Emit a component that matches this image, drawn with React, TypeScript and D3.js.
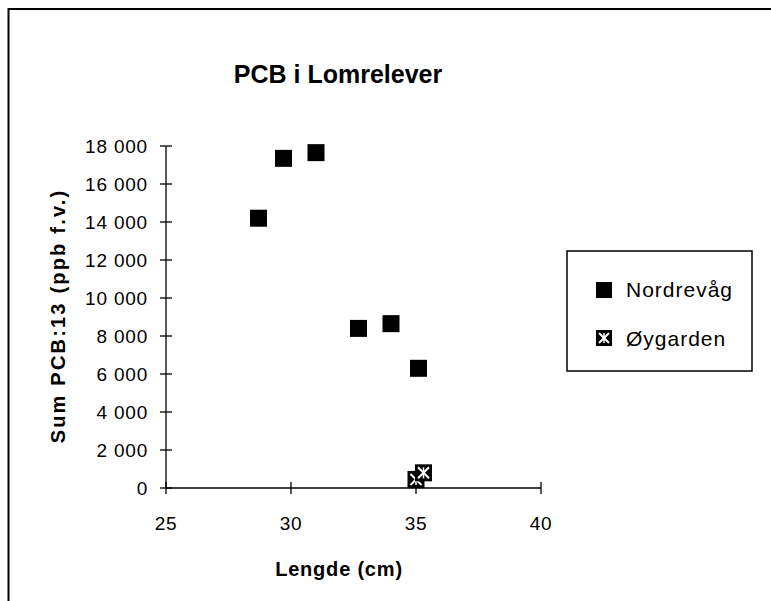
import * as d3 from 'd3';

const nordrevagLength = [28.7, 29.7, 31.0, 32.7, 34.0, 35.1];
const nordrevagPcb = [14200, 17350, 17650, 8400, 8650, 6300];
const oygardenLength = [35.0, 35.3];
const oygardenPcb = [450, 800];
const xTicks = [25, 30, 35, 40];
const yTicks = [0, 2000, 4000, 6000, 8000, 10000, 12000, 14000, 16000, 18000];
const seriesNames = ['Nordrevåg', 'Øygarden'];

const FONT = '"Liberation Sans", Arial, Helvetica, sans-serif';

const fmt = d3
  .formatLocale({ decimal: ',', thousands: ' ', grouping: [3], currency: ['', ''] })
  .format(',');

function OyMarker({ cx, cy, s }: { cx: number; cy: number; s: number }) {
  const h = s / 2;
  const k = h - 3;
  return (
    <g>
      <rect x={cx - h} y={cy - h} width={s} height={s} fill="#000" />
      <line x1={cx - k} y1={cy - k} x2={cx + k} y2={cy + k} stroke="#fff" strokeWidth={2} />
      <line x1={cx - k} y1={cy + k} x2={cx + k} y2={cy - k} stroke="#fff" strokeWidth={2} />
      <line x1={cx} y1={cy - k} x2={cx} y2={cy + k} stroke="#fff" strokeWidth={1.5} />
    </g>
  );
}

export default function App() {
  const width = 771;
  const height = 601;
  const x = d3.scaleLinear().domain([25, 40]).range([166, 541]);
  const y = d3.scaleLinear().domain([0, 18000]).range([488, 146]);
  const ms = 17;

  const nord = nordrevagLength.map((l, i) => ({ l, v: nordrevagPcb[i] }));
  const oy = oygardenLength.map((l, i) => ({ l, v: oygardenPcb[i] }));

  return (
    <svg
      width={width}
      height={height}
      style={{ position: 'absolute', left: 0, top: 0, background: '#fff' }}
      fontFamily={FONT}
    >
      <rect x={0} y={0} width={width} height={height} fill="#fff" />
      {/* outer frame */}
      <rect x={8.5} y={9} width={780} height={620} fill="none" stroke="#000" strokeWidth={2} />

      <text x={338} y={83} textAnchor="middle" fontSize={25} fontWeight="bold">
        PCB i Lomrelever
      </text>

      {/* y axis */}
      <line x1={x(25)} x2={x(25)} y1={y(18000)} y2={y(0)} stroke="#000" strokeWidth={1.3} />
      {yTicks.map((t) => (
        <g key={t}>
          <line x1={x(25) - 6} x2={x(25) + 6} y1={y(t)} y2={y(t)} stroke="#000" strokeWidth={1.3} />
          <text x={x(25) - 18} y={y(t)} dy="0.35em" textAnchor="end" fontSize={19} letterSpacing={0.8}>
            {fmt(t)}
          </text>
        </g>
      ))}

      {/* x axis */}
      <line x1={x(25)} x2={x(40)} y1={y(0)} y2={y(0)} stroke="#000" strokeWidth={1.3} />
      {xTicks.map((t) => (
        <g key={t}>
          <line x1={x(t)} x2={x(t)} y1={y(0) - 6} y2={y(0) + 6} stroke="#000" strokeWidth={1.3} />
          <text x={x(t)} y={530} textAnchor="middle" fontSize={19} letterSpacing={0.8}>
            {t}
          </text>
        </g>
      ))}

      <text x={339} y={576} textAnchor="middle" fontSize={20} fontWeight="bold" letterSpacing={0.8}>
        Lengde (cm)
      </text>
      <text
        transform="translate(65,316) rotate(-90)"
        textAnchor="middle"
        fontSize={20}
        fontWeight="bold"
        letterSpacing={2.2}
      >
        Sum PCB:13 (ppb f.v.)
      </text>

      {/* data */}
      {nord.map((d, i) => (
        <rect key={i} x={x(d.l) - ms / 2} y={y(d.v) - ms / 2} width={ms} height={ms} fill="#000" />
      ))}
      {oy.map((d, i) => (
        <OyMarker key={i} cx={x(d.l)} cy={y(d.v)} s={ms} />
      ))}

      {/* legend */}
      <rect x={567} y={251} width={185} height={120} fill="#fff" stroke="#000" strokeWidth={1.5} />
      <rect x={596} y={282} width={16} height={16} fill="#000" />
      <text x={626} y={297} fontSize={21} letterSpacing={1}>
        {seriesNames[0]}
      </text>
      <OyMarker cx={604} cy={338} s={16} />
      <text x={626} y={346} fontSize={21} letterSpacing={1}>
        {seriesNames[1]}
      </text>
    </svg>
  );
}
